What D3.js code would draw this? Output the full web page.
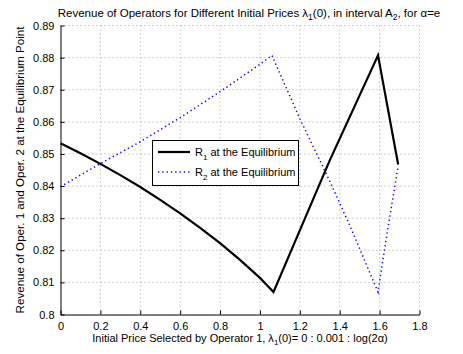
<!DOCTYPE html>
<html>
<head>
<meta charset="utf-8">
<script src="https://cdn.jsdelivr.net/npm/d3@7"></script>
<style>
  body { margin: 0; background: #fff; }
  text { font-family: "Liberation Sans", Arial, sans-serif; fill: #000; }
</style>
</head>
<body>
<div id="chart"></div>
<script>
// values
var xTicks = [0, 0.2, 0.4, 0.6, 0.8, 1, 1.2, 1.4, 1.6, 1.8]
var yTicks = [0.8, 0.81, 0.82, 0.83, 0.84, 0.85, 0.86, 0.87, 0.88, 0.89]

var r1X = [0, 0.1, 0.2, 0.3, 0.4, 0.5, 0.6, 0.7, 0.8, 0.9, 1.0, 1.068, 1.2, 1.35, 1.592, 1.693]
var r1Y = [0.8533, 0.8502, 0.8469, 0.8434, 0.8397, 0.8357, 0.8315, 0.8270, 0.8222, 0.8170, 0.8114, 0.8070, 0.8262, 0.8480, 0.8807, 0.8467]

var r2X = [0, 0.2, 0.4, 0.6, 0.8, 1.0, 1.06, 1.2, 1.35, 1.45, 1.592, 1.62, 1.65, 1.675, 1.693]
var r2Y = [0.8398, 0.8470, 0.8538, 0.8613, 0.8694, 0.8779, 0.8807, 0.8610, 0.8415, 0.8278, 0.8070, 0.8185, 0.8300, 0.8395, 0.8462]

var width = 463, height = 354
var pLeft = 60.5, pRight = 419.5, pTop = 25.5, pBottom = 314.5

var x = d3.scaleLinear().domain([0, 1.8]).range([pLeft, pRight])
var y = d3.scaleLinear().domain([0.8, 0.89]).range([pBottom, pTop])

var svg = d3.select('#chart').append('svg')
    .attr('width', width)
    .attr('height', height)

// grid
svg.append('g').selectAll('line')
    .data(xTicks.slice(1))
    .enter().append('line')
    .attr('x1', d => x(d)).attr('x2', d => x(d))
    .attr('y1', pTop).attr('y2', pBottom)
    .attr('stroke', '#a0a0a0')
    .attr('stroke-width', 1)
    .attr('stroke-dasharray', '1,3')

svg.append('g').selectAll('line')
    .data(yTicks.slice(1))
    .enter().append('line')
    .attr('x1', pLeft).attr('x2', pRight)
    .attr('y1', d => y(d)).attr('y2', d => y(d))
    .attr('stroke', '#a0a0a0')
    .attr('stroke-width', 1)
    .attr('stroke-dasharray', '1,3')

// axes
svg.append('g')
    .attr('transform', 'translate(0,' + pBottom + ')')
    .call(d3.axisBottom(x).tickValues(xTicks).tickSizeInner(-4).tickSizeOuter(0).tickPadding(8)
        .tickFormat(d3.format('')))
svg.append('g')
    .attr('transform', 'translate(' + pLeft + ',0)')
    .call(d3.axisLeft(y).tickValues(yTicks).tickSizeInner(-4).tickSizeOuter(0).tickPadding(6)
        .tickFormat(d3.format('')))

svg.selectAll('.domain').attr('stroke', '#000').attr('stroke-width', 1)
svg.selectAll('.tick line').attr('stroke', '#000')
svg.selectAll('.tick text').attr('font-size', 11).attr('font-family', '"Liberation Sans", Arial, sans-serif')

// curves
var line = d3.line()
function pts(xs, ys) { return xs.map((v, i) => [x(v), y(ys[i])]) }

svg.append('path')
    .attr('d', line(pts(r2X, r2Y)))
    .attr('fill', 'none')
    .attr('stroke', '#0000ff')
    .attr('stroke-width', 1.5)
    .attr('stroke-dasharray', '1.3,3')

svg.append('path')
    .attr('d', line(pts(r1X, r1Y)))
    .attr('fill', 'none')
    .attr('stroke', '#000')
    .attr('stroke-width', 2.2)
    .attr('stroke-linejoin', 'miter')

// legend
var lg = svg.append('g')
lg.append('rect')
    .attr('x', 152.5).attr('y', 140.5)
    .attr('width', 146).attr('height', 45)
    .attr('fill', '#fff').attr('stroke', '#000')

var legendRows = [
    { sub: '1', color: '#000', w: 2.2, dash: null, yy: 152 },
    { sub: '2', color: '#0000ff', w: 1.5, dash: '1.3,3', yy: 172 }
]
legendRows.forEach(function (r) {
    lg.append('line')
        .attr('x1', 158).attr('x2', 190)
        .attr('y1', r.yy).attr('y2', r.yy)
        .attr('stroke', r.color)
        .attr('stroke-width', r.w)
        .attr('stroke-dasharray', r.dash)
    var t = lg.append('text')
        .attr('x', 195).attr('y', r.yy + 4)
        .attr('font-size', 11)
    t.append('tspan').text('R')
    t.append('tspan').attr('dy', 4).attr('font-size', 8).text(r.sub)
    t.append('tspan').attr('dy', -4).text(' at the Equilibrium')
})

// title
var title = svg.append('text')
    .attr('x', 249).attr('y', 17)
    .attr('text-anchor', 'middle')
    .attr('font-size', 11.5)
title.append('tspan').text('Revenue of Operators for Different Initial Prices λ')
title.append('tspan').attr('dy', 3).attr('font-size', 8.5).text('1')
title.append('tspan').attr('dy', -3).text('(0), in interval A')
title.append('tspan').attr('dy', 3).attr('font-size', 8.5).text('2')
title.append('tspan').attr('dy', -3).text(', for α=e')

// x label
var xl = svg.append('text')
    .attr('x', 240).attr('y', 342)
    .attr('text-anchor', 'middle')
    .attr('font-size', 11)
xl.append('tspan').text('Initial Price Selected by Operator 1, λ')
xl.append('tspan').attr('dy', 3).attr('font-size', 8).text('1')
xl.append('tspan').attr('dy', -3).text('(0)= 0 : 0.001 : log(2α)')

// y label
svg.append('text')
    .attr('transform', 'translate(24,' + ((pTop + pBottom) / 2) + ') rotate(-90)')
    .attr('text-anchor', 'middle')
    .attr('font-size', 11.6)
    .text('Revenue of Oper. 1 and Oper. 2 at the Equilibrium Point')
</script>
</body>
</html>
